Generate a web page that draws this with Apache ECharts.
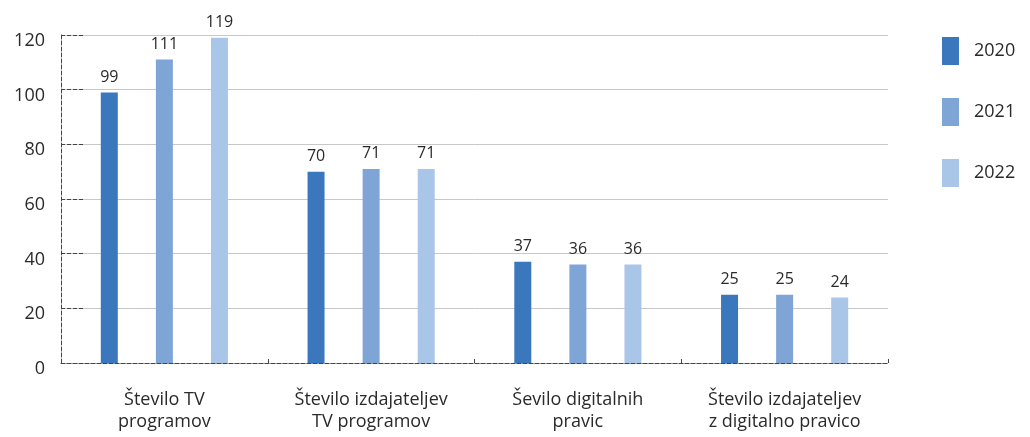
<!DOCTYPE html>
<html>
<head>
<meta charset="utf-8">
<script src="https://cdn.jsdelivr.net/npm/echarts@6/dist/echarts.min.js"></script>
<style>
  html, body { margin: 0; padding: 0; background: #fff; }
  #main { width: 1030px; height: 437px; }
</style>
</head>
<body>
<div id="main"></div>
<script>
// kategorije
var categories = ['Število TV\nprogramov', 'Število izdajateljev\nTV programov', 'Ševilo digitalnih\npravic', 'Število izdajateljev\nz digitalno pravico'];
var years = ['2020', '2021', '2022'];
// vrednosti po letih
var values2020 = [99, 70, 37, 25];
var values2021 = [111, 71, 36, 25];
var values2022 = [119, 71, 36, 24];
var colors = ['#3b77bd', '#7fa5d7', '#a9c5e8'];

var font = 'Open Sans';
var textColor = '#2a2a2a';
var myChart = echarts.init(document.getElementById('main'));

function makeSeries (name, data, color) {
  return {
    name: name,
    type: 'bar',
    data: data,
    barWidth: 17,
    barGap: '224%',
    itemStyle: { color: color },
    label: {
      show: true,
      position: 'top',
      distance: 7,
      color: textColor,
      fontSize: 16,
      fontFamily: font
    }
  };
}

var option = {
  animation: false,
  grid: { left: 61, right: 142, top: 35, bottom: 74 },
  legend: {
    orient: 'vertical',
    left: 937,
    top: 32,
    itemWidth: 17,
    itemHeight: 28,
    itemGap: 33,
    icon: 'rect',
    textStyle: { fontSize: 18, fontFamily: font, color: textColor, padding: [0, 0, 0, 10] },
    data: years
  },
  xAxis: {
    type: 'category',
    data: categories,
    axisLine: { lineStyle: { color: '#444', type: 'dashed', width: 1 } },
    axisTick: { show: true, inside: true, length: 6, lineStyle: { color: '#444', type: 'dashed' } },
    axisLabel: { fontSize: 18, fontFamily: font, color: textColor, lineHeight: 22, margin: 26 }
  },
  yAxis: {
    type: 'value',
    min: 0,
    max: 120,
    interval: 20,
    axisLine: { show: true, lineStyle: { color: '#444', type: 'dashed', width: 1 } },
    axisTick: { show: true, inside: true, length: 22, lineStyle: { color: '#444', type: 'dashed' } },
    axisLabel: { fontSize: 18, fontFamily: font, color: textColor, margin: 16, verticalAlign: 'top', lineHeight: 12 },
    splitLine: { show: true, lineStyle: { color: '#c8c8c8', width: 1 } }
  },
  series: [
    makeSeries(years[0], values2020, colors[0]),
    makeSeries(years[1], values2021, colors[1]),
    makeSeries(years[2], values2022, colors[2])
  ]
};

myChart.setOption(option);
</script>
</body>
</html>
